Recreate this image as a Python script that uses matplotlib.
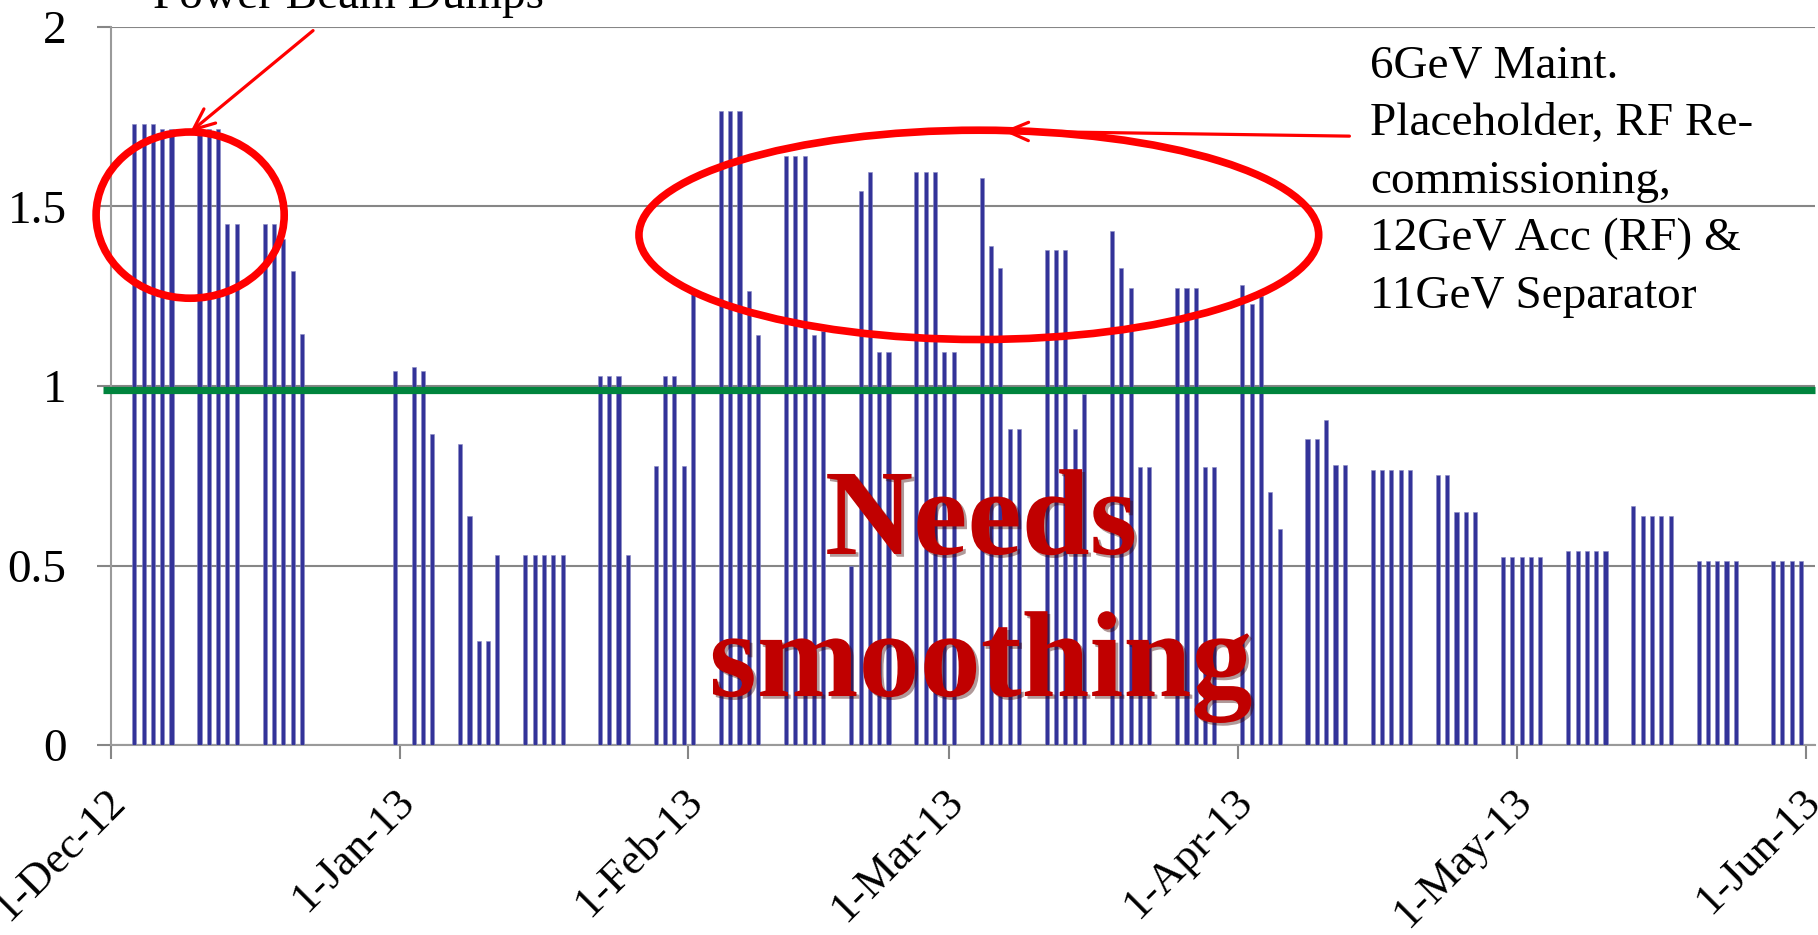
import numpy as np
import pandas as pd
import matplotlib
matplotlib.use("Agg")
import matplotlib.pyplot as plt
import matplotlib.dates as mdates
import matplotlib.patheffects as pe
from matplotlib.patches import Ellipse
from matplotlib.transforms import ScaledTranslation

# daily values (weekdays only, holidays skipped)
dates = [
    "2012-12-03", "2012-12-04", "2012-12-05", "2012-12-06", "2012-12-07",
    "2012-12-10", "2012-12-11", "2012-12-12", "2012-12-13", "2012-12-14",
    "2012-12-17", "2012-12-18", "2012-12-19", "2012-12-20", "2012-12-21",
    "2012-12-31",
    "2013-01-02", "2013-01-03", "2013-01-04",
    "2013-01-07", "2013-01-08", "2013-01-09", "2013-01-10", "2013-01-11",
    "2013-01-14", "2013-01-15", "2013-01-16", "2013-01-17", "2013-01-18",
    "2013-01-22", "2013-01-23", "2013-01-24", "2013-01-25",
    "2013-01-28", "2013-01-29", "2013-01-30", "2013-01-31", "2013-02-01",
    "2013-02-04", "2013-02-05", "2013-02-06", "2013-02-07", "2013-02-08",
    "2013-02-11", "2013-02-12", "2013-02-13", "2013-02-14", "2013-02-15",
    "2013-02-18", "2013-02-19", "2013-02-20", "2013-02-21", "2013-02-22",
    "2013-02-25", "2013-02-26", "2013-02-27", "2013-02-28", "2013-03-01",
    "2013-03-04", "2013-03-05", "2013-03-06", "2013-03-07", "2013-03-08",
    "2013-03-11", "2013-03-12", "2013-03-13", "2013-03-14", "2013-03-15",
    "2013-03-18", "2013-03-19", "2013-03-20", "2013-03-21", "2013-03-22",
    "2013-03-25", "2013-03-26", "2013-03-27", "2013-03-28", "2013-03-29",
    "2013-04-01", "2013-04-02", "2013-04-03", "2013-04-04", "2013-04-05",
    "2013-04-08", "2013-04-09", "2013-04-10", "2013-04-11", "2013-04-12",
    "2013-04-15", "2013-04-16", "2013-04-17", "2013-04-18", "2013-04-19",
    "2013-04-22", "2013-04-23", "2013-04-24", "2013-04-25", "2013-04-26",
    "2013-04-29", "2013-04-30", "2013-05-01", "2013-05-02", "2013-05-03",
    "2013-05-06", "2013-05-07", "2013-05-08", "2013-05-09", "2013-05-10",
    "2013-05-13", "2013-05-14", "2013-05-15", "2013-05-16", "2013-05-17",
    "2013-05-20", "2013-05-21", "2013-05-22", "2013-05-23", "2013-05-24",
    "2013-05-28", "2013-05-29", "2013-05-30", "2013-05-31",
]
values = [
    1.73, 1.73, 1.73, 1.715, 1.715,
    1.715, 1.715, 1.715, 1.45, 1.45,
    1.45, 1.45, 1.41, 1.32, 1.145,
    1.043,
    1.053, 1.043, 0.866,
    0.839, 0.638, 0.289, 0.289, 0.528,
    0.528, 0.528, 0.528, 0.528, 0.528,
    1.028, 1.028, 1.028, 0.528,
    0.778, 1.028, 1.028, 0.778, 1.259,
    1.766, 1.766, 1.766, 1.266, 1.142,
    1.641, 1.641, 1.641, 1.142, 1.154,
    0.499, 1.543, 1.595, 1.095, 1.095,
    1.595, 1.595, 1.595, 1.095, 1.095,
    1.578, 1.389, 1.33, 0.88, 0.88,
    1.38, 1.38, 1.38, 0.88, 0.977,
    1.431, 1.33, 1.272, 0.773, 0.773,
    1.272, 1.272, 1.272, 0.773, 0.773,
    1.28, 1.228, 1.25, 0.705, 0.603,
    0.851, 0.851, 0.904, 0.78, 0.78,
    0.766, 0.766, 0.766, 0.766, 0.766,
    0.751, 0.751, 0.649, 0.649, 0.649,
    0.523, 0.523, 0.523, 0.523, 0.523,
    0.541, 0.541, 0.541, 0.541, 0.541,
    0.665, 0.638, 0.638, 0.638, 0.638,
    0.513, 0.513, 0.513, 0.513, 0.513,
    0.513, 0.513, 0.513, 0.513,
]
target = 0.99

month_ticks = ["2012-12-01", "2013-01-01", "2013-02-01", "2013-03-01",
               "2013-04-01", "2013-05-01", "2013-06-01"]
month_labels = ["1-Dec-12", "1-Jan-13", "1-Feb-13", "1-Mar-13",
                "1-Apr-13", "1-May-13", "1-Jun-13"]
y_ticks = [0, 0.5, 1, 1.5, 2]
y_labels = ["0", "0.5", "1", "1.5", "2"]

note_lines = ["6GeV Maint.", "Placeholder, RF Re-", "commissioning,",
              "12GeV Acc (RF) &", "11GeV Separator"]

plt.rcParams['font.family'] = ['Liberation Serif', 'DejaVu Serif']

W, H = 1818, 935
fig = plt.figure(figsize=(W / 100, H / 100), dpi=100)
ax = fig.add_axes([111 / W, 1 - 745 / H, (1815 - 111) / W, (745 - 27) / H])

x0 = mdates.date2num(pd.Timestamp("2012-12-01"))
x = mdates.date2num(pd.to_datetime(dates)) + 0.5
ax.bar(x, values, width=0.44, color='#333399', edgecolor='#8a8ac4',
       linewidth=0.4, zorder=3)

ax.set_xlim(x0, x0 + 183)
ax.set_ylim(0, 2)

ax.set_yticks(y_ticks)
ax.set_yticklabels(y_labels)
ax.set_xticks(mdates.date2num(pd.to_datetime(month_ticks)))
ax.set_xticklabels(month_labels, rotation=45, ha='right', va='top',
                   rotation_mode='anchor')

ax.yaxis.grid(True, color='#868686', lw=1.5, zorder=0)
ax.set_axisbelow(True)
for s in ['top', 'right']:
    ax.spines[s].set_visible(False)
for s in ['left', 'bottom']:
    ax.spines[s].set_color('#9a9a9a')
    ax.spines[s].set_linewidth(1.5)

ax.tick_params(axis='y', length=10, width=1.5, color='#868686',
               labelsize=34, pad=22)
ax.tick_params(axis='x', length=10, width=1.5, color='#868686',
               labelsize=32, pad=16)
shift = ScaledTranslation(-6 / 100, 0, fig.dpi_scale_trans)
for lab in ax.get_xticklabels():
    lab.set_transform(lab.get_transform() + shift)

# target line
ax.plot([x0 - 0.86, x0 + 183], [target, target], color='#00843D', lw=5.2,
        solid_capstyle='butt', clip_on=False, zorder=4)

# circles and arrows
ax.add_patch(Ellipse((x0 + 8.5, 1.476), 20.2, 0.463, fill=False,
                     ec='red', lw=5.5, zorder=5, clip_on=False))
ax.add_patch(Ellipse((x0 + 93.2, 1.421), 73.0, 0.583, fill=False,
                     ec='red', lw=5.5, zorder=5, clip_on=False))
arrow = dict(arrowstyle='->,head_length=0.7,head_width=0.3', color='red',
             lw=2.3, mutation_scale=22, shrinkA=0, shrinkB=0)
ax.annotate('', xy=(x0 + 8.5, 1.707), xytext=(x0 + 21.7, 1.99),
            arrowprops=arrow, annotation_clip=False, zorder=6)
ax.annotate('', xy=(x0 + 95.8, 1.71), xytext=(x0 + 133.0, 1.696),
            arrowprops=arrow, annotation_clip=False, zorder=6)

fig.text(153 / W, 1 - 8 / H, "Power Beam Dumps", fontsize=34,
         va='baseline', ha='left')
for i, line in enumerate(note_lines):
    fig.text(1370 / W, 1 - (78 + 57.5 * i) / H, line, fontsize=34,
             va='baseline', ha='left')

shadow = [pe.SimplePatchShadow(offset=(2, -2), shadow_rgbFace='#3a0000',
                               alpha=0.4), pe.Normal()]
for txt, base in [("Needs", 554), ("smoothing", 696)]:
    fig.text(981 / W, 1 - base / H, txt, fontsize=88, fontweight='bold',
             color='#C00000', ha='center', va='baseline', zorder=10,
             path_effects=shadow)

fig.savefig("out.png", dpi=100)
